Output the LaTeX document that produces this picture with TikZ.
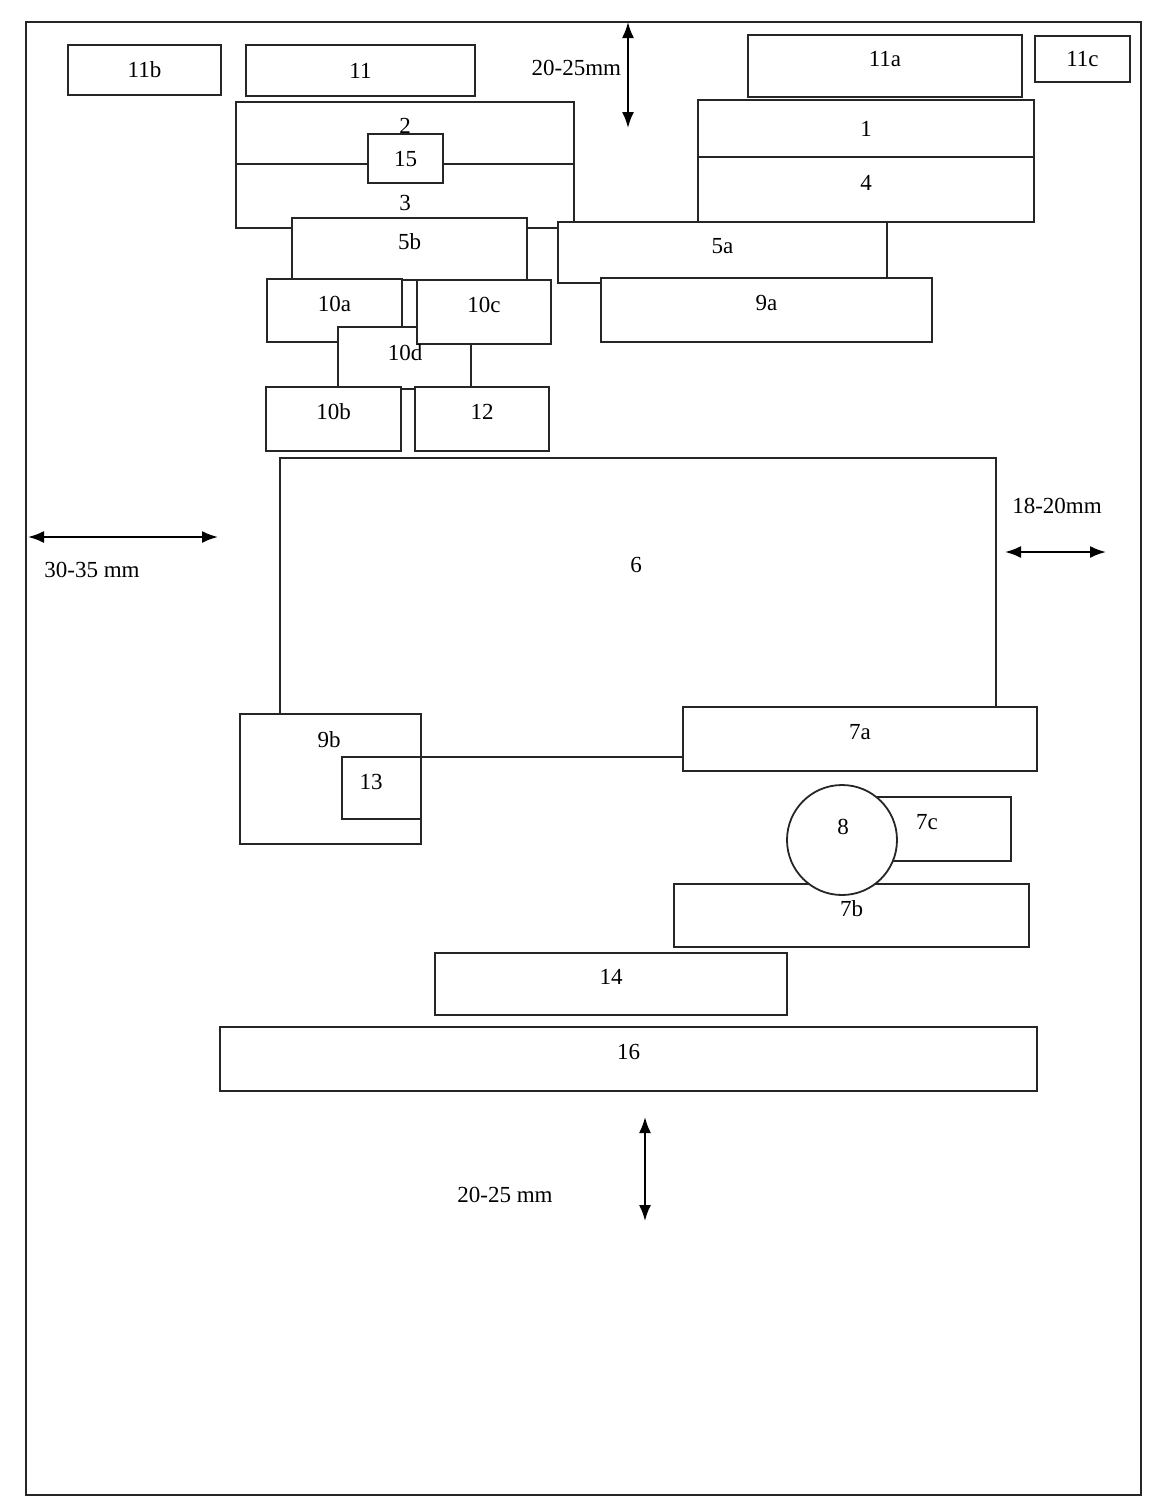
\documentclass[tikz,border=0pt]{standalone}
\usepackage{fontspec}
\setmainfont{Liberation Serif}
\usetikzlibrary{positioning, arrows.meta}

\begin{document}
\begin{tikzpicture}[
    x=0.5pt, y=-0.5pt,
    font=\fontsize{11.5}{13}\selectfont,
    line width=0.9pt,
    box/.style={draw=black!85, fill=white, inner sep=0pt, outer sep=0pt, text depth=7pt},
    flat/.style={box, text depth=0pt},
    ring/.style={draw=black!85, fill=white, circle, inner sep=0pt},
    tag/.style={inner sep=0pt},
    dim/.style={{Latex[length=8pt,width=6pt]}-{Latex[length=8pt,width=6pt]}, line width=1pt},
    node distance=0pt,
]
\useasboundingbox (0,0) rectangle (1149,1506);

% --- page frame ---
\draw[draw=black!85, line width=1pt] (26,22) rectangle (1141,1495);

% --- top strip ---
\node[flat, minimum width=76.5pt, minimum height=25pt] (b11b) at (144.5,70) {11b};
\node[flat, minimum width=114.5pt, minimum height=25.5pt] (b11) at (360.5,70.5) {11};
\node[box, minimum width=137pt, minimum height=31pt] (b11a) at (885,66) {11a};
\node[flat, minimum width=47.5pt, minimum height=23pt] (b11c) at (1082.5,59) {11c};

% --- blocks 2 / 3 with 15 ---
\node[box, minimum width=169pt, minimum height=31pt] (b2) at (405,133) {2};
\node[box, minimum width=169pt, minimum height=32pt, below=of b2] (b3) {};
\node[tag] (t3) at (405,203) {3};
\node[flat, minimum width=37.5pt, minimum height=24.5pt] (b15) at (405.5,158.5) {15};

% --- blocks 1 / 4 ---
\node[flat, minimum width=168pt, minimum height=28.5pt] (b1) at (866,128.5) {1};
\node[box, minimum width=168pt, minimum height=32.5pt, below=of b1] (b4) {4};

% --- row 5 and 9a ---
\node[box, minimum width=117.5pt, minimum height=31pt] (b5b) at (409.5,249) {5b};
\node[box, minimum width=164.5pt, minimum height=30.5pt] (b5a) at (722.5,252.5) {5a};
\node[box, minimum width=165.5pt, minimum height=32pt] (b9a) at (766.5,310) {9a};

% --- cluster 10 and 12 ---
\node[box, minimum width=67.5pt, minimum height=31.5pt] (b10a) at (334.5,310.5) {10a};
\node[box, minimum width=66.5pt, minimum height=31pt] (b10d) at (404.5,358) {};
\node[box, minimum width=67pt, minimum height=32pt] (b10c) at (484,312) {10c};
\node[tag] (t10d) at (405,353) {10d};
\node[box, minimum width=67.5pt, minimum height=32pt] (b10b) at (333.5,419) {10b};
\node[box, minimum width=67pt, minimum height=32pt] (b12) at (482,419) {12};

% --- main body 6 ---
\node[box, minimum width=358pt, minimum height=149.5pt] (b6) at (638,607.5) {};
\node[tag] (t6) at (636,565) {6};

% --- 9b, 13 and 7a ---
\node[box, minimum width=90.5pt, minimum height=65pt] (b9b) at (330.5,779) {};
\node[tag] (t9b) at (329,740) {9b};
\node[box, minimum width=39.5pt, minimum height=31pt] (b13) at (381.5,788) {};
\node[tag] (t13) at (371,782) {13};
\node[box, minimum width=177pt, minimum height=32pt] (b7a) at (860,739) {7a};

% --- 7b, 7c and seal 8 ---
\node[box, minimum width=177.5pt, minimum height=31.5pt] (b7b) at (851.5,915.5) {7b};
\node[box, minimum width=84pt, minimum height=32pt] (b7c) at (927,829) {7c};
\node[ring, minimum size=55pt] (b8) at (842,840) {};
\node[tag] (t8) at (843,827) {8};

% --- bottom rows ---
\node[box, minimum width=176pt, minimum height=31pt] (b14) at (611,984) {14};
\node[box, minimum width=408.5pt, minimum height=32pt] (b16) at (628.5,1059) {16};

% --- margin arrows ---
\coordinate (topA) at (628,22);
\coordinate (topB) at (628,128);
\draw[dim] (topA) -- (topB);
\node[tag, anchor=east] (dtop) at (622,68) {20-25mm};

\coordinate (lftA) at (28,537);
\coordinate (lftB) at (218,537);
\draw[dim] (lftA) -- (lftB);
\node[tag] (dlft) at (92,570) {30-35 mm};

\coordinate (rgtA) at (1005,552);
\coordinate (rgtB) at (1106,552);
\draw[dim] (rgtA) -- (rgtB);
\node[tag] (drgt) at (1057,506) {18-20mm};

\coordinate (botA) at (645,1117);
\coordinate (botB) at (645,1221);
\draw[dim] (botA) -- (botB);
\node[tag] (dbot) at (505,1195) {20-25 mm};

\end{tikzpicture}
\end{document}
